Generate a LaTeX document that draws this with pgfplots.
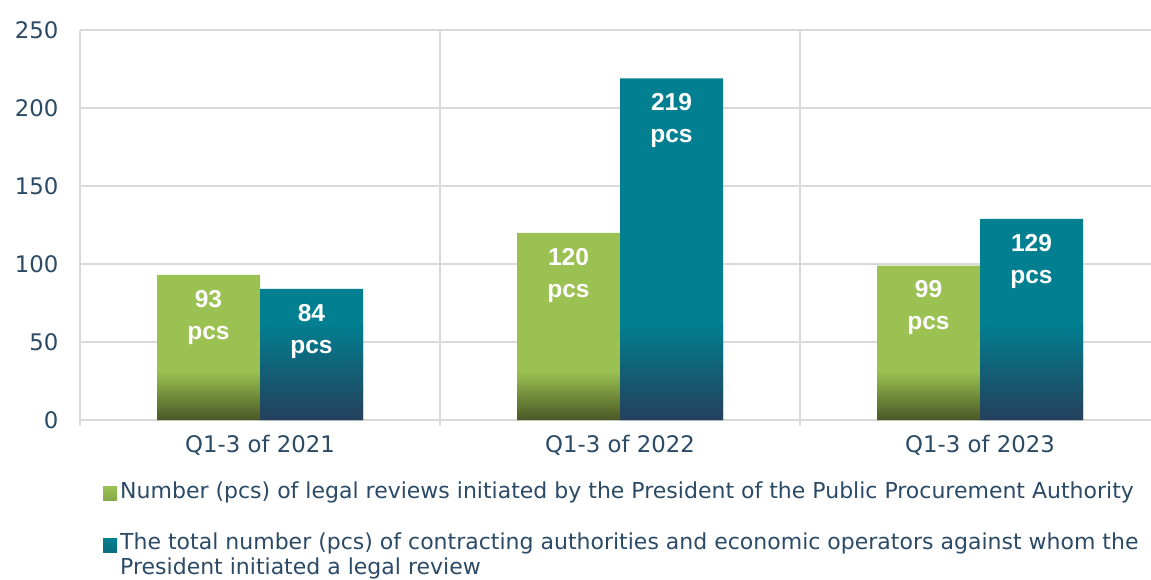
\documentclass[border=0pt]{standalone}
\usepackage{pgfplots}
\pgfplotsset{compat=1.18}
\usepackage{fontspec}
\setmainfont{DejaVu Sans}
\newfontfamily\lblfont{Liberation Sans}
\definecolor{txt}{HTML}{2B4A66}
\definecolor{grn}{HTML}{9AC152}
\definecolor{grnd}{HTML}{4A5726}
\definecolor{tl}{HTML}{027F90}
\definecolor{nvy}{HTML}{243F5B}
\definecolor{grd}{HTML}{D9D9D9}
\begin{document}
\begin{tikzpicture}[x=1pt,y=1pt]
\useasboundingbox (0,0) rectangle (1151,579);
\begin{axis}[
  at={(80pt,159pt)}, anchor=south west,
  scale only axis, width=1071pt, height=390pt,
  xmin=-0.5, xmax=2.475, ymin=0, ymax=250,
  /pgf/number format/assume math mode=true,
  ytick={0,50,...,250},
  xtick={0,1,2},
  xticklabels={Q1-3 of 2021,Q1-3 of 2022,Q1-3 of 2023},
  minor xtick={-0.5,0.5,1.5,2.5},
  ymajorgrids, xminorgrids,
  major grid style={draw=grd, line width=1.8pt},
  minor grid style={draw=grd, line width=1.8pt},
  major tick length=0pt, minor tick length=6pt,
  tick align=outside,
  minor tick style={draw=grd, line width=1.8pt},
  axis x line*=bottom, axis y line*=left,
  axis line style={draw=grd, line width=1.8pt},
  ticklabel style={font=\fontsize{22.8}{26}\selectfont, text=txt},
  yticklabel style={xshift=-18pt},
  xticklabel style={yshift=-12pt},
  ybar, bar width=103pt,
  legend style={at={(rel axis cs:0.0215,-0.158)}, anchor=north west,
    draw=none, fill=none, inner sep=0pt, row sep=32pt,
    nodes={inner sep=0pt, text=txt},
    font=\fontsize{22}{25}\selectfont},
  legend cell align=left,
]
% flat bars
\addplot[fill=grn, draw=none, bar shift=-51.5pt,
  legend image code/.code={\fill[top color=grn, bottom color=grn!75!grnd] (0pt,-10pt) rectangle (14pt,4pt); \path (17pt,0pt);}]
  coordinates {(0,93) (1,120) (2,99)};
\addlegendentry{\parbox[t]{1030pt}{\raggedright\hyphenpenalty=10000 Number (pcs) of legal reviews initiated by the President of the Public Procurement Authority}}
\addplot[fill=tl, draw=none, bar shift=51.5pt,
  legend image code/.code={\fill[top color=tl, bottom color=tl!70!nvy] (0pt,-10pt) rectangle (14pt,4pt); \path (17pt,0pt);}]
  coordinates {(0,84) (1,219) (2,129)};
\addlegendentry{\parbox[t]{1030pt}{\raggedright\hyphenpenalty=10000 The total number (pcs) of contracting authorities and economic operators against whom the President initiated a legal review}}
% gradient overlays at the bottom of the bars
\addplot[forget plot, draw=none, top color=grn, bottom color=grnd, bar shift=-51.5pt]
  coordinates {(0,31) (1,31) (2,31)};
\addplot[forget plot, draw=none, top color=tl, bottom color=nvy, bar shift=51.5pt]
  coordinates {(0,62) (1,62) (2,62)};
% labels
\addplot[forget plot, draw=none, fill=none, bar shift=-51.5pt,
  nodes near coords={\pgfmathprintnumber{\pgfplotspointmeta}\\pcs},
  every node near coord/.append style={align=center, anchor=north, yshift=-15pt,
    inner sep=0pt, text=white, font=\lblfont\bfseries\fontsize{24.5}{32}\selectfont}]
  coordinates {(0,93) (1,120) (2,99)};
\addplot[forget plot, draw=none, fill=none, bar shift=51.5pt,
  nodes near coords={\pgfmathprintnumber{\pgfplotspointmeta}\\pcs},
  every node near coord/.append style={align=center, anchor=north, yshift=-15pt,
    inner sep=0pt, text=white, font=\lblfont\bfseries\fontsize{24.5}{32}\selectfont}]
  coordinates {(0,84) (1,219) (2,129)};
\end{axis}
\end{tikzpicture}
\end{document}
